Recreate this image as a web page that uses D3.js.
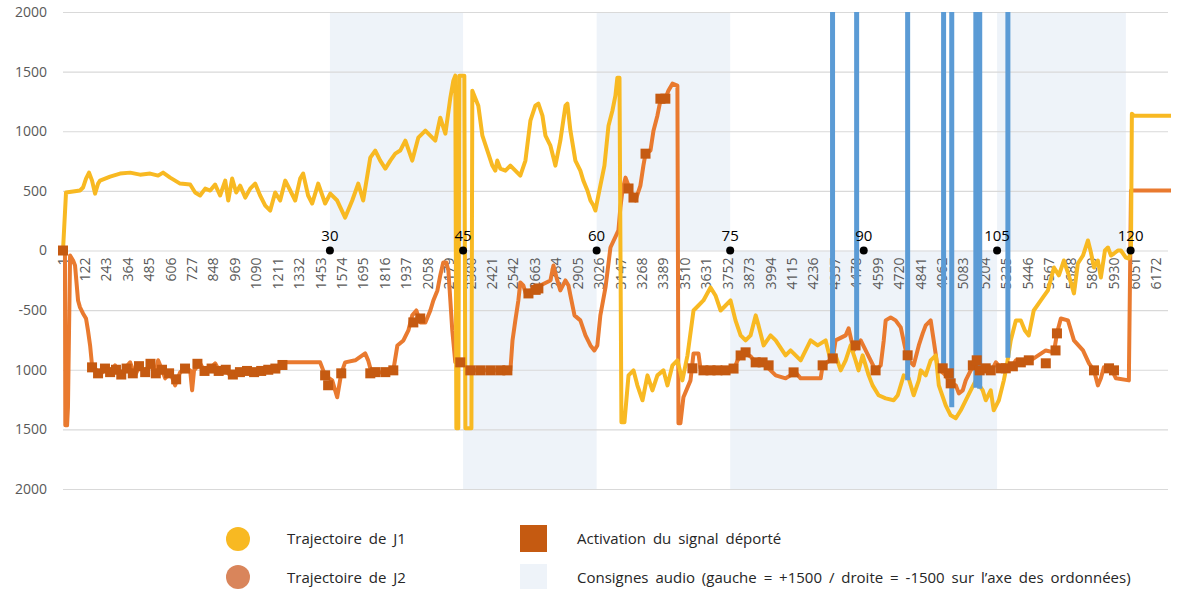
<!DOCTYPE html>
<html>
  <head>
    <meta charset="utf-8" />
    <title>Trajectoires J1 / J2</title>
    <script src="https://d3js.org/d3.v7.min.js" charset="utf-8"></script>
    <style>
      html,
      body {
        margin: 0;
        padding: 0;
        background-color: #ffffff;
        font-family: "Open Sans", Arial, sans-serif;
      }
    </style>
  </head>
  <body>
    <svg id="chart"></svg>

    <script>
      // ---- data (x = sample index, y = position) ----
      const yTickValues = [2000, 1500, 1000, 500, 0, -500, -1000, -1500, -2000];
      const yTickLabels = ["2000", "1500", "1000", "500", "0", "-500", "1000", "1500", "2000"];

      const xTickLabels = [1, 122, 243, 364, 485, 606, 727, 848, 969, 1090, 1211, 1332,
        1453, 1574, 1695, 1816, 1937, 2058, 2179, 2300, 2421, 2542, 2663, 2784, 2905,
        3026, 3147, 3268, 3389, 3510, 3631, 3752, 3873, 3994, 4115, 4236, 4357, 4478,
        4599, 4720, 4841, 4962, 5083, 5204, 5325, 5446, 5567, 5688, 5809, 5930, 6051, 6172];

      // seconds markers on the 0 line
      const secLabels = [30, 45, 60, 75, 90, 105, 120];
      const secIndex = [1508, 2260, 3014, 3768, 4522, 5275, 6029];

      // audio instructions (gauche = +1500 / droite = -1500)
      const audioStart = [1508, 2260, 3014, 3768, 5275];
      const audioEnd = [2260, 3014, 3768, 5275, 6002];
      const audioValue = [1500, -1500, 1500, -1500, 1500];

      // trajectory of J1
      const j1Index = [1, 18, 97, 114, 131, 148, 165, 182, 199, 210, 267, 323, 380, 436, 493,
        538, 566, 606, 662, 719, 747, 775, 804, 832, 860, 888, 917, 934, 956, 979, 1001,
        1030, 1058, 1086, 1114, 1143, 1171, 1199, 1227, 1256, 1284, 1312, 1340, 1357, 1385,
        1408, 1442, 1481, 1510, 1549, 1594, 1634, 1668, 1696, 1736, 1764, 1792, 1821, 1849,
        1877, 1905, 1934, 1973, 2007, 2047, 2075, 2103, 2131, 2160, 2188, 2205, 2216, 2222,
        2233, 2239, 2267, 2273, 2307, 2312, 2346, 2369, 2397, 2425, 2442, 2453, 2470, 2499,
        2527, 2555, 2583, 2612, 2640, 2668, 2685, 2708, 2725, 2753, 2770, 2781, 2809, 2838,
        2849, 2866, 2894, 2922, 2939, 2962, 2979, 2996, 3007, 3018, 3035, 3058, 3081, 3103,
        3120, 3131, 3143, 3154, 3171, 3194, 3222, 3244, 3273, 3301, 3329, 3357, 3391, 3414,
        3442, 3470, 3498, 3527, 3561, 3589, 3617, 3657, 3685, 3714, 3742, 3770, 3798, 3827,
        3855, 3883, 3912, 3928, 3957, 3996, 4025, 4081, 4109, 4166, 4222, 4262, 4307, 4335,
        4363, 4392, 4420, 4448, 4476, 4493, 4516, 4550, 4572, 4606, 4646, 4691, 4714, 4748,
        4776, 4804, 4833, 4844, 4872, 4900, 4929, 4946, 4985, 5013, 5042, 5070, 5098, 5126,
        5155, 5194, 5211, 5239, 5256, 5285, 5313, 5330, 5352, 5381, 5409, 5432, 5454, 5482,
        5522, 5562, 5596, 5624, 5652, 5680, 5709, 5731, 5760, 5788, 5805, 5822, 5844, 5861,
        5884, 5901, 5918, 5935, 5957, 5974, 6002, 6019, 6031, 6036, 6047, 6257];
      const j1Value = [0, 486, 503, 528, 603, 653, 586, 477, 561, 586, 620, 645, 653, 636, 645,
        628, 653, 611, 561, 553, 486, 461, 519, 503, 553, 461, 586, 419, 603, 486, 544,
        444, 519, 561, 461, 377, 335, 486, 419, 586, 503, 419, 603, 645, 461,
        394, 561, 394, 477, 419, 276, 419, 561, 419, 779, 838, 754, 687, 754,
        812, 838, 921, 754, 946, 1005, 963, 921, 1114, 980, 1281, 1424, 1466, -1491,
        -1491, 1466, 1466, -1491, -1491, 1340, 1214, 963, 838, 712, 670, 754, 687, 670,
        712, 670, 628, 754, 1089, 1214, 1231, 1131, 963, 879, 779, 712, 921, 1214,
        1231, 1005, 754, 670, 586, 503, 419, 377, 335, 419, 544, 712, 1047, 1172,
        1298, 1449, 1449, -1441, -1441, -1047, -1005, -1131, -1256, -1047, -1173, -1047, -1005, -1131,
        -963, -921, -1089, -879, -503, -461, -419, -310, -377, -503, -461, -419, -586, -712,
        -754, -712, -544, -628, -796, -712, -754, -879, -838, -921, -754, -796, -754, -921,
        -879, -1005, -921, -796, -921, -1005, -879, -1047, -1131, -1214, -1240, -1256, -1214, -1047,
        -1072, -1214, -1089, -1005, -1047, -921, -879, -1131, -1298, -1382, -1407, -1340, -1256, -1173,
        -1089, -1173, -1256, -1173, -1340, -1256, -1089, -963, -754, -586, -586, -670, -712, -503,
        -419, -335, -142, -209, -84, -209, -360, -109, -42, 84, -17, -142, -84, -226,
        0, 25, -42, -25, 0, 0, -59, -67, 0, 1147, 1131, 1131];

      // trajectory of J2
      const j2Index = [1, 12, 14, 24, 29, 41, 58, 69, 86, 97, 114, 131, 142, 154, 165, 182,
        210, 238, 267, 295, 323, 351, 380, 408, 436, 465, 493, 521, 538, 561, 578, 606,
        634, 662, 690, 719, 730, 741, 775, 804, 832, 860, 888, 917, 945, 1001, 1058, 1114,
        1171, 1227, 1256, 1453, 1481, 1521, 1549, 1572, 1594, 1651, 1707, 1724, 1747, 1792,
        1866, 1889, 1923, 1951, 1973, 1996, 2018, 2047, 2075, 2092, 2115, 2131, 2148, 2165,
        2177, 2188, 2199, 2216, 2261, 2284, 2527, 2539, 2555, 2572, 2583, 2600, 2617, 2640,
        2696, 2753, 2770, 2792, 2809, 2838, 2855, 2866, 2889, 2922, 2951, 2979, 3001, 3018,
        3035, 3064, 3092, 3137, 3148, 3160, 3177, 3194, 3216, 3233, 3261, 3278, 3290, 3318,
        3335, 3357, 3374, 3402, 3419, 3442, 3470, 3476, 3487, 3504, 3544, 3561, 3589, 3600,
        3787, 3810, 3838, 3883, 3912, 3940, 3979, 4025, 4081, 4137, 4166, 4279, 4290, 4347,
        4363, 4420, 4437, 4465, 4505, 4533, 4561, 4589, 4618, 4635, 4646, 4674, 4702, 4731,
        4759, 4776, 4804, 4833, 4855, 4872, 4900, 4917, 4940, 4985, 5013, 5042, 5059, 5081,
        5098, 5126, 5155, 5183, 5239, 5268, 5296, 5352, 5381, 5465, 5550, 5596, 5613, 5635,
        5675, 5709, 5760, 5794, 5822, 5844, 5861, 5878, 5918, 5946, 6019, 6031, 6257];
      const j2Value = [0, 0, -1466, -1466, -1315, -42, -84, -126, -419, -477, -528, -570, -670, -796, -963, -988,
        -1047, -988, -1022, -963, -1047, -988, -938, -1047, -963, -1022, -938, -1047, -921, -1005, -1072, -1022,
        -1131, -1022, -988, -1005, -1173, -1005, -946, -1022, -988, -946, -1022, -1005, -1047, -1022, -1005, -1022,
        -1005, -988, -938, -938, -1047, -1089, -1231, -1030, -938, -921, -863, -921, -1047, -1022,
        -1005, -796, -754, -670, -544, -503, -603, -603, -503, -419, -335, -209, -100, -100,
        -168, -419, -670, -938, -938, -1005, -1005, -754, -586, -419, -268, -293, -377, -335,
        -293, -251, -126, -251, -335, -251, -293, -377, -544, -586, -712, -796, -838, -796,
        -544, -310, 25, 168, 360, 503, 611, 544, 461, 419, 544, 712, 812, 838,
        1005, 1131, 1256, 1273, 1340, 1399, 1382, -1449, -1449, -1231, -1089, -863, -863, -988,
        -1005, -921, -854, -888, -938, -921, -980, -1047, -1072, -1022, -1072, -1072, -963, -905,
        -754, -712, -653, -838, -754, -838, -921, -1005, -963, -754, -586, -561, -586, -645,
        -838, -921, -963, -796, -695, -628, -586, -754, -988, -1047, -1114, -1131, -1198, -1173,
        -1089, -1005, -938, -1005, -1022, -938, -988, -988, -921, -921, -838, -854, -695, -570,
        -586, -754, -838, -946, -1005, -1131, -1072, -980, -988, -1072, -1089, 503, 503];

      // activation of the remote signal (squares on J2)
      const actIndex = [1, 165, 199, 238, 267, 300, 330, 360, 395, 430, 465, 495, 525, 560, 600,
        640, 690, 760, 800, 840, 880, 920, 960, 1000, 1040, 1080, 1120, 1160, 1200, 1240,
        1481, 1498, 1572, 1736, 1764, 1821, 1866, 1979, 2018, 2244, 2301, 2357, 2414, 2470,
        2510, 2629, 2670, 2685, 3194, 3222, 3290, 3374, 3402, 3555, 3617, 3657, 3696, 3742,
        3787, 3827, 3855, 3912, 3951, 3985, 4126, 4290, 4347, 4476, 4589, 4770, 4968, 5002,
        5013, 5138, 5160, 5177, 5211, 5239, 5296, 5324, 5364, 5409, 5454, 5550, 5605, 5613,
        5822, 5907, 5935];
      const actValue = [0, -980, -1030, -990, -1020, -1000, -1040, -990, -1030, -970, -1020, -950, -1030, -1000, -1030,
        -1080, -990, -950, -1010, -990, -1010, -1000, -1040, -1020, -1010, -1020, -1010, -1000, -990, -960,
        -1047, -1130, -1030, -1030, -1020, -1020, -1005, -603, -570, -938, -1005, -1005, -1005, -1005,
        -1005, -360, -330, -318, 520, 444, 812, 1273, 1273, -988, -1005, -1005, -1005, -1005,
        -990, -880, -854, -938, -938, -963, -1022, -963, -905, -796, -1005, -879, -988, -1030,
        -1114, -963, -921, -1005, -988, -1005, -988, -988, -971, -938, -921, -946, -838, -695,
        -1005, -988, -1005];

      // blue vertical spikes (from the top of the chart down to the value)
      const spikeIndex = [4346, 4482, 4770, 4973, 5019, 5155, 5177, 5336];
      const spikeValue = [-896, -821, -1089, -1005, -1315, -1150, -1160, -900];

      // ---- layout ----
      const width = 1198;
      const height = 589;
      const lmargin = 63;
      const rEdge = 1168;
      const tmargin = 12;
      const bEdge = 489;

      const svg = d3.select("#chart").attr("width", width).attr("height", height);

      const x = d3.scaleLinear().domain([1, 6240]).range([lmargin, rEdge]);
      const y = d3.scaleLinear().domain([-2000, 2000]).range([bEdge, tmargin]);

      // audio bands
      svg.append("g")
        .selectAll("rect")
        .data(audioStart)
        .join("rect")
        .attr("x", (d) => x(d))
        .attr("width", (d, i) => x(audioEnd[i]) - x(d))
        .attr("y", (d, i) => (audioValue[i] > 0 ? y(2000) : y(0)))
        .attr("height", (d, i) => (audioValue[i] > 0 ? y(0) - y(2000) : y(-2000) - y(0)))
        .attr("fill", "#eef3f9");

      // y axis + gridlines
      const yAxis = d3.axisLeft(y)
        .tickValues(yTickValues)
        .tickSize(-(rEdge - lmargin))
        .tickPadding(16)
        .tickFormat((d, i) => yTickLabels[i]);
      svg.append("g")
        .attr("transform", `translate(${lmargin},0)`)
        .call(yAxis)
        .call((g) => g.select(".domain").remove())
        .call((g) => g.selectAll("line").attr("stroke", "#d9d9d9").attr("stroke-width", 1.2))
        .call((g) => g.selectAll("text")
          .attr("fill", "#595959")
          .attr("font-size", 14)
          .attr("font-family", "Open Sans, sans-serif"));

      // x axis labels on the 0 line
      const xAxis = d3.axisBottom(x)
        .tickValues(xTickLabels)
        .tickFormat((d) => String(d))
        .tickSize(0);
      svg.append("g")
        .attr("transform", `translate(0,${y(0)})`)
        .call(xAxis)
        .call((g) => g.select(".domain").remove())
        .selectAll("text")
        .attr("transform", "rotate(-90)")
        .attr("text-anchor", "end")
        .attr("x", -7)
        .attr("y", 0)
        .attr("dy", "0.35em")
        .attr("fill", "#595959")
        .attr("font-size", 14)
        .attr("font-family", "Open Sans, sans-serif");

      // lines
      const line = d3.line().x((d) => x(d[0])).y((d) => y(d[1]));
      const j2 = j2Index.map((d, i) => [d, j2Value[i]]);
      const j1 = j1Index.map((d, i) => [d, j1Value[i]]);

      svg.append("path")
        .datum(j2)
        .attr("d", line)
        .attr("fill", "none")
        .attr("stroke", "#e97a2f")
        .attr("stroke-width", 4)
        .attr("stroke-linejoin", "round");

      svg.append("path")
        .datum(j1)
        .attr("d", line)
        .attr("fill", "none")
        .attr("stroke", "#f8b922")
        .attr("stroke-width", 4)
        .attr("stroke-linejoin", "round");

      // blue spikes
      svg.append("g")
        .selectAll("line")
        .data(spikeIndex)
        .join("line")
        .attr("x1", (d) => x(d))
        .attr("x2", (d) => x(d))
        .attr("y1", y(2000))
        .attr("y2", (d, i) => y(spikeValue[i]))
        .attr("stroke", "#5b9bd5")
        .attr("stroke-width", 5);

      // activation squares
      const sq = 10;
      svg.append("g")
        .selectAll("rect")
        .data(actIndex)
        .join("rect")
        .attr("x", (d) => x(d) - sq / 2)
        .attr("y", (d, i) => y(actValue[i]) - sq / 2)
        .attr("width", sq)
        .attr("height", sq)
        .attr("fill", "#c55a11");

      // seconds markers
      const secs = svg.append("g");
      secs.selectAll("circle")
        .data(secIndex)
        .join("circle")
        .attr("cx", (d) => x(d))
        .attr("cy", y(0))
        .attr("r", 4)
        .attr("fill", "#000");
      secs.selectAll("text")
        .data(secIndex)
        .join("text")
        .attr("x", (d) => x(d))
        .attr("y", y(0) - 10)
        .attr("text-anchor", "middle")
        .attr("font-size", 15)
        .attr("fill", "#000")
        .text((d, i) => secLabels[i]);

      // legend
      const legend = svg.append("g")
        .attr("font-size", 15)
        .attr("word-spacing", 3)
        .attr("fill", "#262626");
      legend.append("circle").attr("cx", 238).attr("cy", 539).attr("r", 12).attr("fill", "#f8b922");
      legend.append("circle").attr("cx", 238).attr("cy", 577).attr("r", 12).attr("fill", "#d9855b");
      legend.append("rect").attr("x", 520).attr("y", 525).attr("width", 27).attr("height", 27).attr("fill", "#c55a11");
      legend.append("rect").attr("x", 520).attr("y", 564).attr("width", 27).attr("height", 27).attr("fill", "#eef3f9");
      legend.append("text").attr("x", 287).attr("y", 544).text("Trajectoire de J1");
      legend.append("text").attr("x", 287).attr("y", 583).text("Trajectoire de J2");
      legend.append("text").attr("x", 577).attr("y", 544).text("Activation du signal déporté");
      legend.append("text").attr("x", 577).attr("y", 583)
        .text("Consignes audio (gauche = +1500 / droite = -1500 sur l’axe des ordonnées)");
    </script>
  </body>
</html>
